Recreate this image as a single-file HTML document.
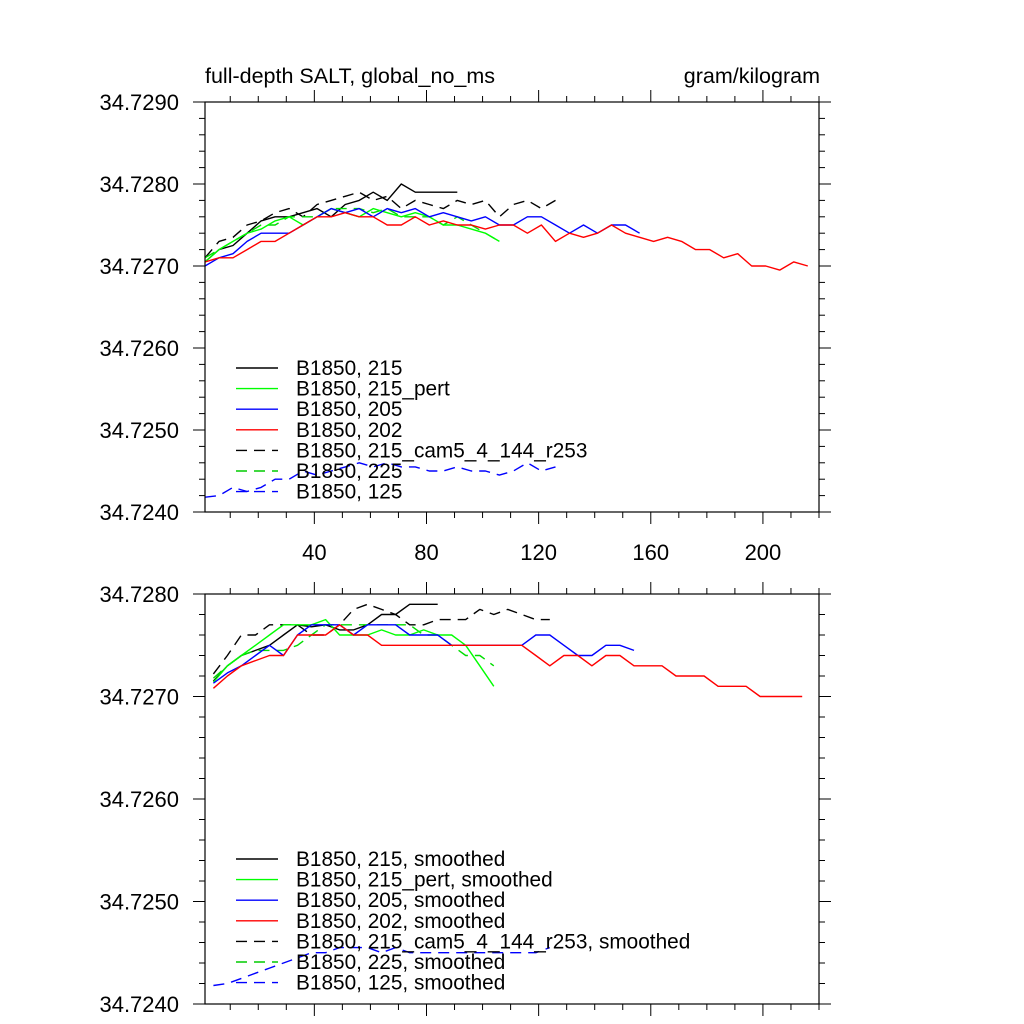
<!DOCTYPE html>
<html><head><meta charset="utf-8"><style>
body{margin:0;background:#fff;}
svg{display:block;font-family:"Liberation Sans",Arial,sans-serif;}
</style></head><body>
<svg id="c" width="1024" height="1024" viewBox="0 0 1024 1024"></svg>
<script>
// ---- data ----
const topBlackX0=1, topStep=5;
const topBlack=[34.72705,34.7272,34.72725,34.7274,34.72755,34.7276,34.7276,34.72765,34.7277,34.7276,34.72775,34.7278,34.7279,34.7278,34.7280,34.7279,34.7279,34.7279,34.7279];
const topBlackDash=[34.7271,34.7273,34.72735,34.7275,34.72755,34.72765,34.7277,34.7276,34.72775,34.7278,34.72785,34.7279,34.7278,34.72785,34.7277,34.7278,34.72775,34.7277,34.7278,34.72775,34.7278,34.7276,34.72775,34.7278,34.7277,34.7278];
const topGreen=[34.72705,34.7272,34.7273,34.7274,34.72745,34.72755,34.7276,34.7275,34.7276,34.7277,34.72765,34.7276,34.7277,34.72765,34.7276,34.72765,34.7276,34.7275,34.7275,34.72745,34.7274,34.7273];
const topGreenDash=[34.7271,34.7272,34.7273,34.7274,34.7275,34.7275,34.7276,34.7276,34.7276,34.7277,34.7277,34.7277,34.72765,34.7277,34.7276,34.7276,34.7276,34.7275,34.7276,34.7275,34.7274,34.7273];
const topBlue=[34.7270,34.7271,34.72715,34.7273,34.7274,34.7274,34.7274,34.7275,34.7276,34.7277,34.72765,34.7277,34.7276,34.7277,34.72765,34.7277,34.7276,34.72765,34.7276,34.72755,34.7276,34.7275,34.7275,34.7276,34.7276,34.7275,34.7274,34.7275,34.7274,34.7275,34.7275,34.7274];
const topRed=[34.72705,34.7271,34.7271,34.7272,34.7273,34.7273,34.7274,34.7275,34.7276,34.7276,34.72765,34.7276,34.7276,34.7275,34.7275,34.7276,34.7275,34.72755,34.7275,34.7275,34.72745,34.7275,34.7275,34.7274,34.7275,34.7273,34.7274,34.72735,34.7274,34.7275,34.7274,34.72735,34.7273,34.72735,34.7273,34.7272,34.7272,34.7271,34.72715,34.7270,34.7270,34.72695,34.72705,34.7270];
const topBlueDash=[34.72418,34.7242,34.7243,34.72425,34.7243,34.7244,34.7244,34.7245,34.72445,34.7245,34.72455,34.7246,34.72455,34.7246,34.72455,34.72455,34.7245,34.7245,34.72455,34.7245,34.7245,34.72445,34.7245,34.7246,34.7245,34.72455];
const botX0=4, botStep=5;
const botBlack=[34.72715,34.7273,34.7274,34.72745,34.7275,34.7276,34.7277,34.72768,34.7277,34.72765,34.72765,34.7277,34.7278,34.7278,34.7279,34.7279,34.7279];
const botBlackDash=[34.72722,34.7274,34.7276,34.7276,34.7277,34.7277,34.7277,34.7276,34.7276,34.7277,34.72785,34.7279,34.72785,34.7278,34.7277,34.7277,34.72775,34.72775,34.72775,34.72785,34.7278,34.72785,34.7278,34.72775,34.72775];
const botGreen=[34.72714,34.7273,34.7274,34.7275,34.7276,34.7277,34.7277,34.7277,34.72775,34.7276,34.7276,34.7276,34.72765,34.7276,34.7276,34.72765,34.7276,34.7276,34.7275,34.7273,34.7271];
const botGreenDash=[34.72718,34.7273,34.7274,34.72745,34.72745,34.72745,34.7275,34.7276,34.7277,34.7277,34.7277,34.7277,34.7277,34.7277,34.7277,34.7276,34.7276,34.7275,34.7274,34.7274,34.7273];
const botBlue=[34.72713,34.72723,34.7273,34.7274,34.7275,34.7274,34.7276,34.7277,34.7277,34.7277,34.7276,34.7277,34.7277,34.7277,34.7276,34.7276,34.7276,34.7275,34.7275,34.7275,34.7275,34.7275,34.7275,34.7276,34.7276,34.7275,34.7274,34.7274,34.7275,34.7275,34.72745];
const botRed=[34.72708,34.7272,34.7273,34.72735,34.7274,34.7274,34.7276,34.7276,34.7276,34.7277,34.7276,34.7276,34.7275,34.7275,34.7275,34.7275,34.7275,34.7275,34.7275,34.7275,34.7275,34.7275,34.7275,34.7274,34.7273,34.7274,34.7274,34.7273,34.7274,34.7274,34.7273,34.7273,34.7273,34.7272,34.7272,34.7272,34.7271,34.7271,34.7271,34.7270,34.7270,34.7270,34.7270];
const botBlueDash=[34.72418,34.7242,34.72425,34.7243,34.72435,34.7244,34.72445,34.7245,34.7245,34.72455,34.72455,34.72455,34.7245,34.72455,34.7245,34.7245,34.7245,34.7245,34.7245,34.7245,34.7245,34.7245,34.7245,34.7245,34.72455];
const xTicks=[40,80,120,160,200];
const topYTicks=["34.7240","34.7250","34.7260","34.7270","34.7280","34.7290"];
const botYTicks=["34.7240","34.7250","34.7260","34.7270","34.7280"];
const topLegend=["B1850, 215","B1850, 215_pert","B1850, 205","B1850, 202","B1850, 215_cam5_4_144_r253","B1850, 225","B1850, 125"];
const botLegend=["B1850, 215, smoothed","B1850, 215_pert, smoothed","B1850, 205, smoothed","B1850, 202, smoothed","B1850, 215_cam5_4_144_r253, smoothed","B1850, 225, smoothed","B1850, 125, smoothed"];

const svg=document.getElementById('c');
const NS='http://www.w3.org/2000/svg';
function mk(tag,attrs,parent){const e=document.createElementNS(NS,tag);for(const k in attrs)e.setAttribute(k,attrs[k]);(parent||svg).appendChild(e);return e;}
const L=205,R=819,xmin=1,xmax=220;
const xs=v=>L+(v-xmin)/(xmax-xmin)*(R-L);

function panel(name,top,bot,ymin,ymax,yticks,series,x0,step,legend,legTop,showX){
  const g=mk('g',{});
  
  
  const ys=v=>bot-(v-ymin)/(ymax-ymin)*(bot-top);
  for(let v=10;v<=xmax;v+=10){
    const major=v%40===0, len=major?12:6, x=xs(v);
    mk('line',{x1:x,x2:x,y1:bot,y2:bot+len,stroke:'#000','stroke-width':1},g);
    mk('line',{x1:x,x2:x,y1:top,y2:top-len,stroke:'#000','stroke-width':1},g);
  }
  const n=Math.round((ymax-ymin)/0.0002);
  for(let i=0;i<=n;i++){
    const y=bot-i/n*(bot-top), len=i%5===0?12:6;
    mk('line',{x1:L,x2:L-len,y1:y,y2:y,stroke:'#000','stroke-width':1},g);
    mk('line',{x1:R,x2:R+len,y1:y,y2:y,stroke:'#000','stroke-width':1},g);
  }
  yticks.forEach(t=>{const tx=mk('text',{x:179,y:ys(+t)+8,'text-anchor':'end','font-size':22},g);tx.textContent=t;
    
    });
  if(showX) xTicks.forEach(t=>{const tx=mk('text',{x:xs(t),y:bot+48,'text-anchor':'middle','font-size':22},g);tx.textContent=t;
    
    });
  series.forEach(s=>{
    const pts=s.d.map((v,i)=>xs(x0+i*step).toFixed(1)+','+ys(v).toFixed(1)).join(' ');
    const p=mk('polyline',{points:pts,fill:'none',stroke:s.c,'stroke-width':1.4,'stroke-dasharray':s.dash?'11,7':'none','stroke-linejoin':'round'},g);
    
    
  });
  const cols=['#000','#00ff00','#0000ff','#ff0000','#000','#00cc00','#0000ff'];
  legend.forEach((t,i)=>{
    const y=legTop+i*20.6;
    const le=mk('g',{},g);
    
    
    mk('line',{x1:236,x2:278,y1:y,y2:y,stroke:cols[i],'stroke-width':1.4,'stroke-dasharray':i>=4?'11,7':'none'},le);
    const tx=mk('text',{x:296,y:y+7,'font-size':20.8},le);tx.textContent=t;
  });
  mk('rect',{x:L,y:top,width:R-L,height:bot-top,fill:'none',stroke:'#000','stroke-width':1.2},g);
}
panel('top-panel',102,512,34.724,34.729,topYTicks,[
 {n:'series-215',d:topBlack,c:'#000'},
 {n:'series-215-cam5',d:topBlackDash,c:'#000',dash:1},
 {n:'series-225',d:topGreenDash,c:'#00dd00',dash:1},
 {n:'series-215-pert',d:topGreen,c:'#00ff00'},
 {n:'series-205',d:topBlue,c:'#0000ff'},
 {n:'series-202',d:topRed,c:'#ff0000'},
 {n:'series-125',d:topBlueDash,c:'#0000ff',dash:1}],topBlackX0,topStep,topLegend,368,true);
panel('bottom-panel',594,1004,34.724,34.728,botYTicks,[
 {n:'smoothed-215',d:botBlack,c:'#000'},
 {n:'smoothed-215-cam5',d:botBlackDash,c:'#000',dash:1},
 {n:'smoothed-225',d:botGreenDash,c:'#00dd00',dash:1},
 {n:'smoothed-215-pert',d:botGreen,c:'#00ff00'},
 {n:'smoothed-205',d:botBlue,c:'#0000ff'},
 {n:'smoothed-202',d:botRed,c:'#ff0000'},
 {n:'smoothed-125',d:botBlueDash,c:'#0000ff',dash:1}],botX0,botStep,botLegend,859,false);
const t1=mk('text',{x:205,y:83,'font-size':21.5});t1.textContent='full-depth SALT, global_no_ms';


const t2=mk('text',{x:820,y:83,'font-size':21.5,'text-anchor':'end'});t2.textContent='gram/kilogram';


</script>
</body></html>
